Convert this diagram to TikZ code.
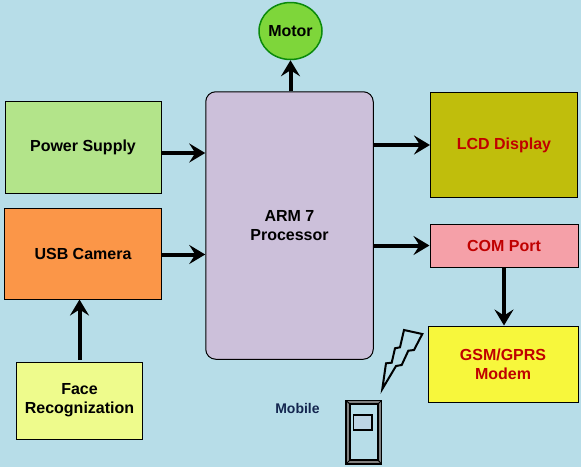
\documentclass[tikz,border=0pt]{standalone}
\usepackage{fontspec}
\setmainfont{Liberation Sans}
\usetikzlibrary{arrows.meta,shapes.geometric}
\definecolor{bgblue}{HTML}{B7DDE8}
\definecolor{powergreen}{HTML}{B3E48A}
\definecolor{camorange}{HTML}{FB9648}
\definecolor{faceyellow}{HTML}{EEFB8C}
\definecolor{armlilac}{HTML}{CCC0DA}
\definecolor{lcdolive}{HTML}{C0BE0C}
\definecolor{compink}{HTML}{F5A0A8}
\definecolor{gsmyellow}{HTML}{F7F73C}
\definecolor{motorgreen}{HTML}{7ED63A}
\definecolor{motorline}{HTML}{0B8A0B}
\definecolor{redtext}{HTML}{C00000}
\definecolor{mobiletext}{HTML}{14264F}
\tikzset{
    block/.style={draw=black, line width=1pt, inner sep=0pt, align=center, font=\bfseries\fontsize{16}{19}\selectfont},
    link/.style={line width=4pt, -{Stealth[length=16pt,width=19pt,inset=6pt]}}
}
\begin{document}
\begin{tikzpicture}[x=1pt,y=-1pt]
    \useasboundingbox[fill=bgblue] (0,0) rectangle (581,467);
    % left column
    \node[block, fill=powergreen, minimum width=156pt, minimum height=92pt] (power) at (83,147) {Power Supply};
    \node[block, fill=camorange, minimum width=157pt, minimum height=91pt] (camera) at (83,253.5) {USB Camera};
    \node[block, fill=faceyellow, minimum width=126pt, minimum height=77pt] (face) at (79.5,400.5) {Face\\Recognization};
    % processor and motor
    \node[block, fill=armlilac, rounded corners=10pt, minimum width=167.5pt, minimum height=267.5pt] (arm) at (289.5,225.5) {ARM 7\\Processor};
    \node[ellipse, draw=motorline, line width=1.5pt, fill=motorgreen, inner sep=0pt, minimum width=63pt, minimum height=57pt, font=\bfseries\fontsize{16}{19}\selectfont] (motor) at (290.5,31) {Motor};
    % right column
    \node[block, fill=lcdolive, text=redtext, minimum width=147pt, minimum height=105pt] (lcd) at (504,145) {LCD Display};
    \node[block, fill=compink, text=redtext, minimum width=148pt, minimum height=43pt] (com) at (504,245.5) {COM Port};
    \node[block, fill=gsmyellow, text=redtext, minimum width=150pt, minimum height=76pt] (gsm) at (503,364) {GSM/GPRS\\Modem};
    % arrows
    \draw[link] ([yshift=-6pt]power.east) -- ([yshift=-6pt]power.east -| arm.west);
    \draw[link] ([yshift=-1pt]camera.east) -- ([yshift=-1pt]camera.east -| arm.west);
    \draw[link] ([yshift=1.5pt]face.north) -- (camera.south -| face.north);
    \draw[link] (arm.north -| motor.south) -- (motor.south);
    \draw[link] (lcd.west -| arm.east) -- (lcd.west);
    \draw[link] (com.west -| arm.east) -- (com.west);
    \draw[link] (com.south) -- (gsm.north -| com.south);
    % mobile
    \node[font=\bfseries\fontsize{14}{16}\selectfont, text=mobiletext, inner sep=0pt] (mobile) at (297.5,408) {Mobile};
    \draw[line width=1.6pt, fill=gray] (346,400.5) rectangle (381.5,464);
    \draw[line width=1.4pt, fill=bgblue] (350,404) rectangle (378,460);
    \draw[line width=1pt] (346,400.5) -- (350,404) (381.5,400.5) -- (378,404) (346,464) -- (350,460) (381.5,464) -- (378,460);
    \draw[line width=1.3pt, fill=armlilac!30!bgblue] (353.7,415) rectangle (372,430);
    % signal bolt
    \draw[line width=2pt, miter limit=8] (404,330) -- (422.3,334) -- (414,350) -- (408.3,350.7) -- (401.7,365) -- (396,366) -- (382.3,389) -- (386,363.3) -- (391.7,362.7) -- (395,348.3) -- (400,347.3) -- cycle;
\end{tikzpicture}
\end{document}
